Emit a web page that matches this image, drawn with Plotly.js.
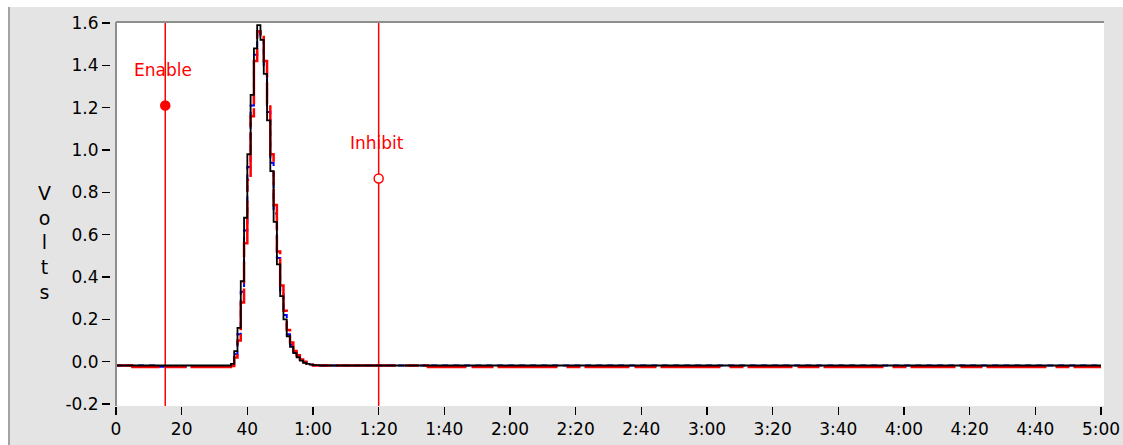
<!DOCTYPE html>
<html>
<head>
<meta charset="utf-8">
<script src="https://cdn.plot.ly/plotly-3.0.1.min.js"></script>
<style>
  html, body { margin: 0; padding: 0; background: #ffffff; width: 1123px; height: 445px; overflow: hidden; }
  #frame { position: absolute; left: 8px; top: 7px; width: 2px; height: 438px; background: #a3a3a3; z-index: 2; }
  #chart { position: absolute; left: 8px; top: 7px; width: 1115px; height: 438px; }
</style>
</head>
<body>
<div id="frame"></div>
<div id="chart"></div>
<script>
// ---- Data ----
// time in seconds
const blackTime = [0, 34, 35, 36, 37, 38, 39, 40, 41, 42, 43, 44, 45, 46, 47, 48, 49, 50, 51, 52, 53, 54, 55, 56, 57, 58, 59, 60, 62, 300];
const blackVolts = [-0.018, -0.018, -0.01, 0.05, 0.16, 0.38, 0.68, 0.98, 1.26, 1.48, 1.59, 1.52, 1.36, 1.14, 0.90, 0.66, 0.46, 0.31, 0.20, 0.12, 0.07, 0.04, 0.02, 0.005, -0.005, -0.01, -0.014, -0.016, -0.018, -0.018];

const blueTime = [0, 12, 34, 35, 36, 37, 38, 39, 40, 41, 42, 43, 44, 45, 46, 47, 48, 49, 50, 51, 52, 53, 54, 55, 56, 57, 58, 59, 60, 62, 300];
const blueVolts = [-0.018, -0.024, -0.024, -0.015, 0.035, 0.13, 0.33, 0.62, 0.92, 1.21, 1.45, 1.57, 1.54, 1.39, 1.18, 0.94, 0.70, 0.49, 0.33, 0.22, 0.13, 0.08, 0.045, 0.025, 0.008, -0.003, -0.01, -0.015, -0.017, -0.018, -0.018];

const redTime = [0, 5, 34, 35, 36, 37, 38, 39, 40, 41, 42, 43, 44, 45, 46, 47, 48, 49, 50, 51, 52, 53, 54, 55, 56, 57, 58, 59, 60, 62, 95, 300];
const redVolts = [-0.018, -0.025, -0.025, -0.02, 0.02, 0.10, 0.28, 0.56, 0.86, 1.16, 1.42, 1.56, 1.55, 1.42, 1.22, 0.98, 0.74, 0.52, 0.36, 0.24, 0.15, 0.09, 0.05, 0.03, 0.01, 0.0, -0.01, -0.015, -0.018, -0.018, -0.025, -0.025];

// cursors
const cursorNames = ['Enable', 'Inhibit'];
const cursorX = [15, 80];
const cursorY = [1.21, 0.865];

// axis ticks
const xTickVals = [0, 20, 40, 60, 80, 100, 120, 140, 160, 180, 200, 220, 240, 260, 280, 300];
const xTickText = ['0', '20', '40', '1:00', '1:20', '1:40', '2:00', '2:20', '2:40', '3:00', '3:20', '3:40', '4:00', '4:20', '4:40', '5:00'];
const yTickVals = [-0.2, 0.0, 0.2, 0.4, 0.6, 0.8, 1.0, 1.2, 1.4, 1.6];
const yTickText = ['-0.2', '0.0', '0.2', '0.4', '0.6', '0.8', '1.0', '1.2', '1.4', '1.6'];
const yTitle = 'Volts';

// ---- Chart ----
const FONT = 'DejaVu Sans, Verdana, sans-serif';
const marginL = 102, marginR = 19, divW = 1115;
const plotW = divW - marginL - marginR;
const xDomStart = 6 / plotW;

const traces = [
  { x: blueTime, y: blueVolts, type: 'scatter', mode: 'lines', line: { color: '#0000ff', width: 2, shape: 'hv', dash: '6px,5px' }, hoverinfo: 'skip' },
  { x: redTime, y: redVolts, type: 'scatter', mode: 'lines', line: { color: '#ff0000', width: 2.5, shape: 'hv', dash: '45px,5px,22px,4px,60px,9px,14px,4px' }, hoverinfo: 'skip' },
  { x: blackTime, y: blackVolts, type: 'scatter', mode: 'lines', line: { color: '#000000', width: 1.8, shape: 'hv' }, hoverinfo: 'skip' },
  { x: cursorX, y: cursorY, type: 'scatter', mode: 'markers',
    marker: { size: 9, color: ['#ff0000', '#ffffff'], line: { color: '#ff0000', width: 1.5 } }, hoverinfo: 'skip' }
];

const shapes = cursorX.map(x => ({
  type: 'line', xref: 'x', yref: 'paper', x0: x, x1: x, y0: 0, y1: 1,
  line: { color: '#ff0000', width: 1.5 }, layer: 'below'
}));
shapes.push({ type: 'line', xref: 'paper', yref: 'paper', x0: xDomStart, x1: 1, y0: 1, y1: 1, line: { color: '#8e8e8e', width: 2 } });
shapes.push({ type: 'line', xref: 'paper', yref: 'paper', x0: xDomStart, x1: xDomStart, y0: 0, y1: 1, line: { color: '#8e8e8e', width: 2 } });

const annotations = cursorNames.map((name, i) => ({
  x: cursorX[i], y: cursorY[i], xref: 'x', yref: 'y', text: name, showarrow: false,
  yshift: 36, xshift: -2, font: { family: FONT, size: 17, color: '#ff0000' }
}));
annotations.push({
  xref: 'paper', yref: 'paper', x: -0.0655, y: 0.427, text: yTitle.split('').join('<br>'),
  showarrow: false, xanchor: 'center', yanchor: 'middle',
  font: { family: FONT, size: 19, color: '#000000' }
});

const layout = {
  width: 1115, height: 438,
  margin: { l: marginL, r: marginR, t: 15, b: 39, pad: 0 },
  paper_bgcolor: '#e4e4e4',
  plot_bgcolor: '#ffffff',
  showlegend: false,
  font: { family: FONT, size: 17, color: '#000000' },
  xaxis: {
    domain: [xDomStart, 1], range: [0, 300.91],
    tickvals: xTickVals, ticktext: xTickText,
    ticks: 'outside', ticklen: 8, tickwidth: 1.5, tickcolor: '#000000',
    showgrid: false, zeroline: false, showline: false,
    tickfont: { family: FONT, size: 17, color: '#000000' }
  },
  yaxis: {
    anchor: 'free', position: 0, range: [-0.2094, 1.6047],
    tickvals: yTickVals, ticktext: yTickText,
    ticks: 'outside', ticklen: 8, tickwidth: 1.5, tickcolor: '#000000',
    showgrid: false, zeroline: false, showline: false,
    tickfont: { family: FONT, size: 17, color: '#000000' }
  },
  shapes: shapes,
  annotations: annotations
};

Plotly.newPlot('chart', traces, layout, { staticPlot: true, displayModeBar: false });
</script>
</body>
</html>
